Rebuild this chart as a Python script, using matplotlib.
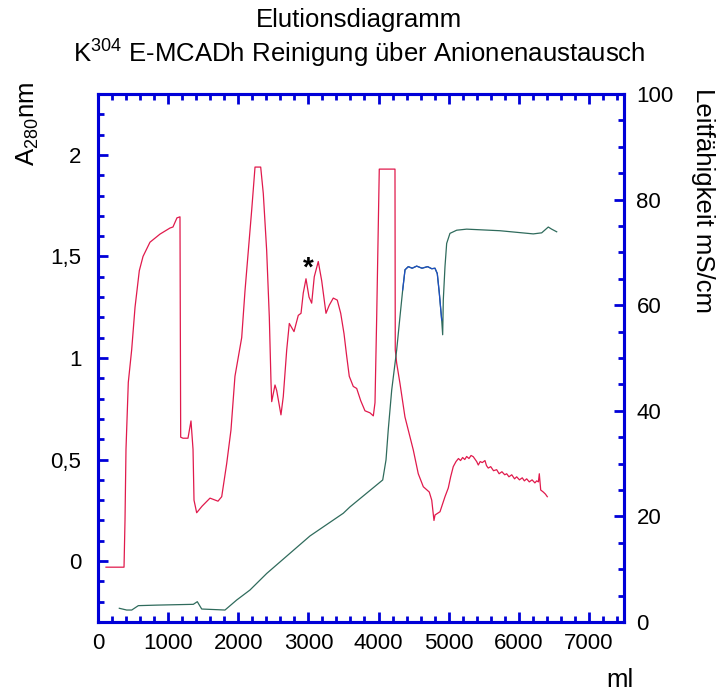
import numpy as np
import matplotlib
matplotlib.use("Agg")
import matplotlib.pyplot as plt
from matplotlib.ticker import MultipleLocator, FuncFormatter

plt.rcParams['font.family'] = ['Liberation Sans', 'DejaVu Sans']

# A280 (left axis), elution volume in ml
vol_a = [114, 371, 385, 399, 432, 480, 528, 589, 642, 741, 884, 1027, 1069, 1126, 1169,
         1179, 1212, 1283, 1326, 1355, 1369, 1407, 1483, 1597, 1711, 1764, 1835, 1896, 1953,
         2049, 2096, 2153, 2192, 2239, 2320, 2357, 2405, 2443, 2467, 2477, 2524, 2548, 2609,
         2642, 2691, 2728, 2795, 2856, 2895, 2927, 2966, 3009, 3047, 3084, 3141, 3190, 3251,
         3298, 3355, 3412, 3461, 3508, 3546, 3583, 3640, 3689, 3746, 3807, 3878, 3926, 3950,
         3974, 4011, 4235, 4239, 4259, 4306, 4377, 4425, 4496, 4567, 4639, 4724, 4759, 4791,
         4806, 4877, 4948, 4995, 5029, 5066, 5105, 5140, 5170, 5200, 5230, 5257, 5290, 5320,
         5351, 5380, 5400, 5423, 5450, 5480, 5518, 5540, 5565, 5600, 5640, 5685, 5720, 5760,
         5800, 5828, 5860, 5900, 5940, 5970, 6010, 6050, 6080, 6113, 6150, 6190, 6230, 6256,
         6280, 6293, 6313, 6350, 6380, 6407]
a280 = [-0.03, -0.03, 0.20, 0.55, 0.88, 1.04, 1.25, 1.43, 1.50, 1.57, 1.61, 1.64, 1.645, 1.69, 1.695,
        0.61, 0.605, 0.605, 0.69, 0.55, 0.30, 0.238, 0.27, 0.31, 0.295, 0.317, 0.48, 0.645, 0.91,
        1.10, 1.33, 1.57, 1.73, 1.94, 1.94, 1.81, 1.53, 1.20, 0.88, 0.785, 0.867, 0.84, 0.72,
        0.81, 1.04, 1.17, 1.13, 1.21, 1.22, 1.32, 1.39, 1.30, 1.27, 1.40, 1.475, 1.38, 1.22,
        1.26, 1.295, 1.285, 1.22, 1.12, 1.01, 0.91, 0.86, 0.85, 0.79, 0.74, 0.73, 0.715, 0.78,
        1.20, 1.93, 1.93, 1.04, 0.975, 0.875, 0.71, 0.645, 0.547, 0.43, 0.366, 0.34, 0.30, 0.20,
        0.227, 0.243, 0.317, 0.36, 0.415, 0.465, 0.49, 0.505, 0.495, 0.51, 0.50, 0.515, 0.505, 0.52,
        0.514, 0.50, 0.49, 0.473, 0.49, 0.485, 0.495, 0.47, 0.458, 0.465, 0.445, 0.45, 0.43, 0.44,
        0.425, 0.43, 0.415, 0.425, 0.405, 0.415, 0.40, 0.41, 0.395, 0.405, 0.39, 0.40, 0.385, 0.395,
        0.39, 0.43, 0.35, 0.34, 0.33, 0.317]

# conductivity (right axis)
vol_c = [304, 409, 481, 575, 837, 1359, 1416, 1479, 1811, 1978, 2167, 2406, 3023, 3498, 3593,
         4060, 4107, 4139, 4188, 4259, 4306, 4345, 4378, 4425, 4480, 4544, 4620, 4700, 4760,
         4805, 4838, 4867, 4901, 4915, 4924, 4948, 4972, 5019, 5115, 5257, 5732, 6207, 6327,
         6421, 6469, 6541]
cond = [2.6, 2.27, 2.27, 3.1, 3.2, 3.35, 3.85, 2.46, 2.27, 4.17, 6.06, 9.2, 16.3, 20.6, 21.8,
        26.9, 30.7, 36.4, 43.9, 51.5, 57.8, 62.9, 66.7, 67.3, 67.0, 67.4, 67.0, 67.3, 66.9,
        67.0, 66.0, 62.3, 57.2, 54.4, 61.0, 67.3, 71.7, 73.6, 74.2, 74.4, 74.1, 73.5, 73.7,
        74.8, 74.4, 73.9]

fig = plt.figure(figsize=(7.18, 6.96), dpi=100)
ax = fig.add_axes([0.1365, 0.1063, 0.7325, 0.7587])
ax2 = ax.twinx()

blue = '#0000d8'
ax.plot(vol_a, a280, color='#e01a4c', lw=0.9)
ax2.plot(vol_c, cond, color='#2f6b5c', lw=0.9)
vc = np.array(vol_c)
seg = (vc >= 4345) & (vc <= 4901)
ax2.plot(vc[seg], np.array(cond)[seg], color='#1f4fc4', lw=0.9)

ax.text(2995, 1.44, '*', fontsize=20, fontweight='bold', ha='center', va='center')

ax.set_xlim(0, 7500)
ax.set_ylim(-0.3, 2.3)
ax2.set_ylim(0, 100)

ax.xaxis.set_major_locator(MultipleLocator(1000))
ax.xaxis.set_minor_locator(MultipleLocator(200))
ax.yaxis.set_major_locator(MultipleLocator(0.5))
ax.yaxis.set_minor_locator(MultipleLocator(0.1))
ax.yaxis.set_major_formatter(FuncFormatter(lambda v, p: f"{v:g}".replace('.', ',')))
ax2.yaxis.set_major_locator(MultipleLocator(20))
ax2.yaxis.set_minor_locator(MultipleLocator(5))

for a in (ax, ax2):
    for s in a.spines.values():
        s.set_color(blue)
        s.set_linewidth(2.2)
ax.tick_params(axis='x', which='both', direction='in', top=True, color=blue, width=2.0, labelsize=16, pad=8)
ax.tick_params(axis='y', which='both', direction='in', right=False, color=blue, width=2.0, labelsize=16, pad=12)
ax2.tick_params(axis='y', which='both', direction='in', color=blue, width=2.0, labelsize=16, pad=9)
for a in (ax, ax2):
    a.tick_params(which='major', length=7.5)
    a.tick_params(which='minor', length=4)

fs = 18.5
fig.text(0.5, 0.971, 'Elutionsdiagramm', ha='center', va='center', fontsize=fs)
fig.text(0.5, 0.925, 'K$^\\mathregular{304}$ E-MCADh Reinigung über Anionenaustausch',
         ha='center', va='center', fontsize=fs)
fig.text(28 / 718, 1 - 82 / 696, 'A$_\\mathregular{280}$nm', rotation=90, ha='center', va='top', fontsize=fs)
fig.text(703 / 718, 1 - 88 / 696, 'Leitfähigkeit mS/cm', rotation=-90, ha='center', va='top', fontsize=fs)
fig.text(620 / 718, 1 - 680 / 696, 'ml', ha='center', va='center', fontsize=fs)

fig.savefig('out.png', dpi=100)
